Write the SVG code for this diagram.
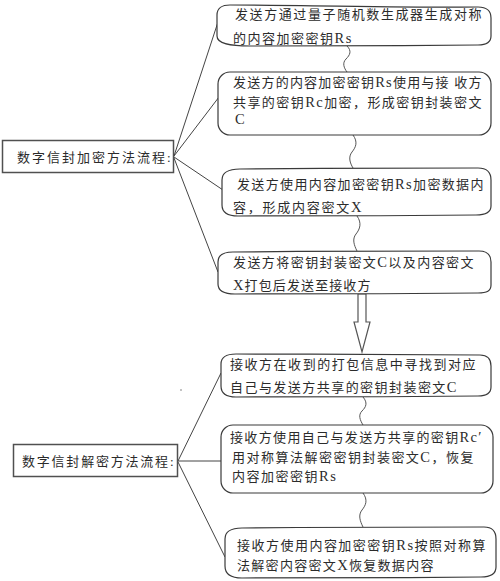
<svg xmlns="http://www.w3.org/2000/svg" width="500" height="581" viewBox="0 0 500 581">
<style>
  .bg{fill:#ffffff}
  .box{fill:#ffffff;stroke:#3a3a3a;stroke-width:1.2}
  .lbox{fill:#ffffff;stroke:#505050;stroke-width:1.5}
  .ln{fill:none;stroke:#444;stroke-width:1}
  .sq{fill:none;stroke:#555;stroke-width:1}
  .arr{fill:#ffffff;stroke:#555;stroke-width:1.2}
  text{font-family:'Liberation Serif','Noto Sans CJK SC',serif;font-size:13px;fill:#2b2b2b;letter-spacing:1.5px}
  .lt{font-size:14.5px}
</style>
<rect class="bg" x="0" y="0" width="500" height="581"/>

<g id="connectors">
  <line class="ln" x1="174" y1="156" x2="218" y2="22"/>
  <line class="ln" x1="174" y1="156" x2="219" y2="97"/>
  <line class="ln" x1="174" y1="157" x2="223" y2="190"/>
  <line class="ln" x1="174" y1="158" x2="218" y2="272"/>
  <line class="ln" x1="178" y1="461" x2="221" y2="373"/>
  <line class="ln" x1="178" y1="461" x2="221" y2="461"/>
  <line class="ln" x1="178" y1="462" x2="225" y2="557"/>
  <path class="sq" d="M347,46 C352,51 350,55 346,59 C342,63 344,68 347,72"/>
  <path class="sq" d="M353,135 C358,142 356,147 352,152 C348,157 350,163 353,168"/>
  <path class="sq" d="M357,216 C362,223 360,229 356,234 C352,239 354,245 357,251"/>
  <path class="sq" d="M363,397 C368,403 366,407 362,411 C358,415 360,420 363,425"/>
  <path class="sq" d="M363,493 C368,500 366,505 362,510 C358,515 360,521 363,527"/>
  <polygon class="arr" points="358,294 366,294 366,322 370,322 362,352 354,322 358,322"/>
  <circle cx="181" cy="390" r="0.8" fill="#777"/>
</g>

<g id="enc-root">
  <rect class="lbox" x="2.5" y="140.5" width="171" height="32"/>
  <text x="17" y="161.5" textLength="155" lengthAdjust="spacing">数字信封加密方法流程:</text>
</g>

<g id="enc-step1">
  <path class="box" d="M217,15 C217,8 222,5 230,5 C300,5 420,8 478,7 C487,7 491,11 491,18 L491,36 C491,42 487,45 478,45 C400,46 300,46 250,46 C230,46 217,44 217,36 Z"/>
  <text x="235" y="19" textLength="248" lengthAdjust="spacing">发送方通过量子随机数生成器生成对称</text>
  <text x="233" y="42.5">的内容加密密钥<tspan class="lt">Rs</tspan></text>
</g>

<g id="enc-step2">
  <rect class="box" x="218" y="72" width="273" height="63" rx="12" ry="12"/>
  <text x="233" y="87" textLength="250" lengthAdjust="spacing">发送方的内容加密密钥<tspan class="lt">Rs</tspan>使用与接 收方</text>
  <text x="233" y="107" textLength="250" lengthAdjust="spacing">共享的密钥<tspan class="lt">Rc</tspan>加密，形成密钥封装密文</text>
  <text x="235" y="124"><tspan class="lt">C</tspan></text>
</g>

<g id="enc-step3">
  <path class="box" d="M222,180 C222,172 228,169 240,169 C320,168 420,168 478,168 C486,168 491,172 491,180 L491,206 C491,212 486,215 476,215 C400,216 300,216 238,216 C228,216 222,213 222,205 Z"/>
  <text x="237" y="188.5" textLength="248" lengthAdjust="spacing">发送方使用内容加密密钥<tspan class="lt">Rs</tspan>加密数据内</text>
  <text x="233" y="211.5" textLength="130" lengthAdjust="spacing">容，形成内容密文<tspan class="lt">X</tspan></text>
</g>

<g id="enc-step4">
  <path class="box" d="M218,262 C218,255 223,252 233,252 C320,251 420,251 479,251 C487,251 491,255 491,262 L491,285 C491,291 487,293 478,293 C400,294 300,294 235,294 C224,294 218,291 218,284 Z"/>
  <text x="233" y="267" textLength="242" lengthAdjust="spacing">发送方将密钥封装密文<tspan class="lt">C</tspan>以及内容密文</text>
  <text x="233" y="289.5" textLength="139" lengthAdjust="spacing"><tspan class="lt">X</tspan>打包后发送至接收方</text>
</g>

<g id="dec-root">
  <rect class="lbox" x="13.5" y="444.5" width="164" height="32"/>
  <text x="22" y="465.5" textLength="153" lengthAdjust="spacing">数字信封解密方法流程:</text>
</g>

<g id="dec-step1">
  <path class="box" d="M221,364 C221,357 226,354 236,354 C320,354 420,355 480,355 C488,355 491,359 491,366 L491,387 C491,393 487,396 478,396 C400,397 300,397 236,397 C226,397 221,393 221,386 Z"/>
  <text x="230" y="368.5" textLength="247" lengthAdjust="spacing">接收方在收到的打包信息中寻找到对应</text>
  <text x="230" y="392" textLength="228" lengthAdjust="spacing">自己与发送方共享的密钥封装密文<tspan class="lt">C</tspan></text>
</g>

<g id="dec-step2">
  <rect class="box" x="221" y="425" width="272" height="68" rx="12" ry="12"/>
  <text x="230" y="441.5" textLength="253" lengthAdjust="spacing">接收方使用自己与发送方共享的密钥<tspan class="lt">Rc′</tspan></text>
  <text x="232" y="462" textLength="243" lengthAdjust="spacing">用对称算法解密密钥封装密文<tspan class="lt">C</tspan>，恢复</text>
  <text x="232" y="480.5">内容加密密钥<tspan class="lt">Rs</tspan></text>
</g>

<g id="dec-step3">
  <path class="box" d="M225,539 C225,531 231,528 242,528 C330,527 430,527 484,527 C492,527 496,531 496,539 L496,567 C496,574 491,577 481,577 C400,578 310,578 242,578 C231,578 225,574 225,566 Z"/>
  <text x="237" y="549.5" textLength="250" lengthAdjust="spacing">接收方使用内容加密密钥<tspan class="lt">Rs</tspan>按照对称算</text>
  <text x="237" y="569.5" textLength="198" lengthAdjust="spacing">法解密内容密文<tspan class="lt">X</tspan>恢复数据内容</text>
</g>
</svg>
